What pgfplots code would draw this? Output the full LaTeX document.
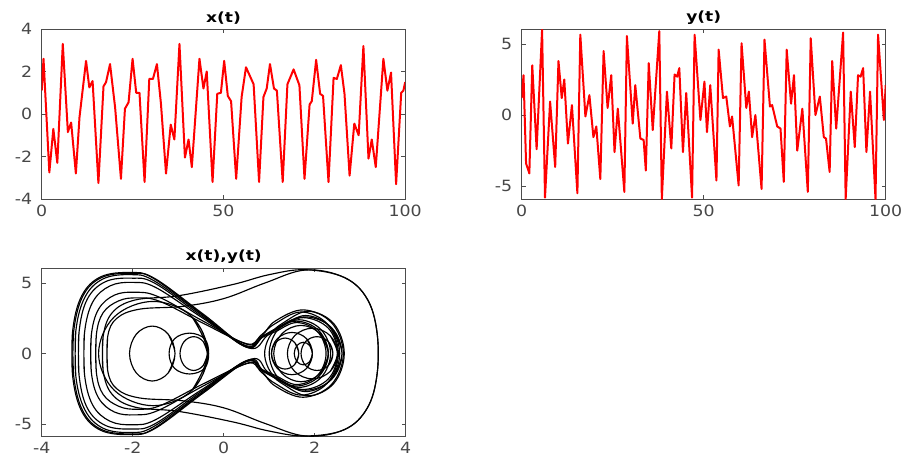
\documentclass[border=0pt]{standalone}
\usepackage{fontspec}
\setmainfont{DejaVu Sans}
\newfontfamily\tickfont{DejaVu Sans}[FakeStretch=1.12]
\newfontfamily\titlefont{DejaVu Sans}[FakeStretch=1.22]
\usepackage{pgfplots}
\pgfplotsset{compat=1.18}
\begin{document}
\begin{tikzpicture}
\useasboundingbox (0pt,0pt) rectangle (903pt,459pt);
\pgfplotsset{
  myax/.style={
    scale only axis,
    anchor=south west,
    axis line style={line width=1pt, black!70},
    every tick/.style={black!70, line width=0.7pt},
    major tick length=4pt,
    tick label style={font=\tickfont\fontsize{15.5}{17}\selectfont, text=black!72},
    /pgf/number format/assume math mode=true,
    title style={font=\titlefont\bfseries\fontsize{14}{16}\selectfont, at={(0.5,1)}, anchor=south, yshift=-4pt, inner sep=2.5pt},
    xticklabel style={yshift=-2pt},
    yticklabel style={xshift=-6pt},
  },
  rl/.style={red, line width=2pt, line join=round, sharp plot, no markers},
  ph/.style={black, line width=1.15pt, smooth, tension=0.62, no markers},
}
% ---------------- x(t) ----------------
\begin{axis}[myax, at={(41.7pt,260pt)}, width=363.5pt, height=170pt,
  xmin=0, xmax=100, ymin=-4, ymax=4,
  xtick={0,50,100}, ytick={-4,-2,0,2,4}, title={x(t)}]
\addplot[rl] coordinates {
(0,1.1)(0.5,2.6)(2.1,-2.75)(3.2,-0.7)(4.3,-2.3)(5.8,3.3)(7.2,-0.85)(8.1,-0.4)(9.4,-2.8)(10.4,-0.15)
(12.2,2.5)(13.1,1.25)(14.0,1.55)(15.6,-3.25)(17.0,1.3)(17.7,1.5)(18.8,2.35)(20.2,0.3)(21.8,-3.05)(22.9,0.25)
(23.9,0.55)(25.0,2.6)(26.0,1.0)(26.9,1.0)(28.3,-3.2)(29.6,1.65)(30.6,1.65)(31.7,2.35)(32.8,0.5)(34.2,-2.8)
(35.5,-0.5)(36.5,-1.2)(37.9,3.3)(39.4,-2.05)(40.4,-1.2)(41.3,-2.5)(43.4,2.6)(44.5,1.2)(45.4,2.0)(47.0,-3.2)
(48.3,0.95)(49.3,1.0)(50.2,2.5)(51.2,0.85)(52.1,0.6)(53.5,-3.05)(55.0,0.8)(56.2,2.2)(58.3,1.4)(59.8,-3.2)
(61.0,0.8)(61.9,1.2)(62.8,2.35)(63.9,1.2)(64.7,1.1)(66.3,-3.2)(67.6,1.4)(69.3,2.1)(70.9,1.35)(72.3,-3.05)
(73.7,0.45)(74.3,0.6)(75.5,2.55)(76.6,0.95)(77.4,0.85)(78.9,-3.2)(80.3,1.7)(81.2,1.65)(82.3,2.3)(83.3,0.95)
(84.7,-2.9)(86.0,-0.45)(87.2,-1.0)(88.5,3.2)(89.9,-2.1)(90.8,-1.2)(91.9,-2.5)(94.0,2.6)(95.1,1.1)(96.1,1.95)
(97.5,-3.3)(98.9,1.0)(99.5,1.1)(100,1.5)};
\end{axis}
% ---------------- y(t) ----------------
\begin{axis}[myax, at={(521.7pt,260pt)}, width=364pt, height=170pt,
  xmin=0, xmax=100, ymin=-5.9, ymax=6.05,
  xtick={0,50,100}, ytick={-5,0,5}, title={y(t)}]
\addplot[rl] coordinates {
(0,1.2)(0.5,2.8)(1.2,-3.4)(2.1,-4.1)(2.9,3.5)(4.1,-2.4)(5.6,6.0)(6.4,-5.8)(7.8,0.95)(9.2,-3.65)
(10.1,3.8)(11.0,1.2)(11.7,2.5)(12.7,-2.0)(13.8,0.7)(15.3,-5.5)(16.1,5.65)(17.5,-0.1)(18.6,1.4)(19.7,-1.55)
(20.5,-0.8)(21.6,-4.5)(22.5,4.5)(23.6,0.5)(24.6,2.8)(25.5,-2.6)(26.4,0.45)(28.2,-5.4)(28.9,5.55)(30.5,-0.6)
(31.2,2.1)(32.6,-1.65)(33.5,-1.75)(34.1,-3.9)(34.9,3.65)(36.0,-1.05)(37.8,5.9)(38.5,-5.9)(39.9,1.65)(41.1,-2.35)
(42.0,2.85)(42.7,2.7)(43.3,3.3)(44.3,-2.6)(45.2,1.55)(46.8,-5.8)(47.5,5.65)(49.1,-0.35)(50.2,2.35)(50.9,-1.2)
(51.8,2.1)(53.5,-4.6)(54.1,4.6)(55.3,1.2)(56.2,1.3)(57.2,-0.8)(57.8,-0.1)(59.6,-4.95)(60.4,5.05)(61.7,0.5)
(62.4,1.65)(63.3,-1.55)(64.2,0.0)(65.9,-5.2)(66.7,5.3)(68.2,0.6)(68.8,0.7)(70.2,-0.8)(71.1,-0.95)(72.0,-4.7)
(72.8,4.6)(74.0,0.8)(74.8,2.8)(75.7,-2.5)(77.1,0.45)(78.6,-5.4)(79.4,5.4)(80.7,0.0)(81.9,1.3)(83.0,-1.55)
(83.6,-1.65)(84.6,-4.0)(85.3,3.8)(86.4,-0.95)(88.3,5.8)(89.0,-5.9)(90.4,1.65)(91.5,-2.25)(92.4,2.8)(93.1,2.7)
(93.8,3.3)(94.7,-2.6)(95.7,1.65)(97.2,-5.9)(97.9,5.65)(99.5,-0.35)(100,2.1)};
\end{axis}
% ---------------- phase portrait ----------------
\begin{axis}[myax, at={(41.7pt,22.3pt)}, width=364pt, height=168.4pt,
  xmin=-4, xmax=4, ymin=-5.9, ymax=6.05,
  xtick={-4,-2,0,2,4}, ytick={-5,0,5}, title={x(t),y(t)}]
% figure-eight passes
\addplot[ph] coordinates {(-3.32,-1.6)(-3.32,1.6)(-3.12,4.1)(-2.7,5.45)(-2.05,5.75)(-1.55,5.35)(-0.5,2.85)(0.5,0.45)(0.85,1.3)(1.13,2.3)(1.75,3.1)(2.37,2.19)(2.63,0)(2.37,-2.19)(1.75,-3.1)(1.13,-2.3)(0.85,-1.3)(0.55,-0.45)(-0.5,-2.85)(-1.55,-5.35)(-2.05,-5.75)(-2.7,-5.45)(-3.12,-4.1)(-3.32,-1.6)(-3.32,1.6)};
\addplot[ph] coordinates {(-3.25,-1.6)(-3.25,1.6)(-3.05,4.0)(-2.65,5.3)(-2.05,5.6)(-1.55,5.2)(-0.5,2.8)(0.47,0.5)(0.82,1.3)(1.12,2.1)(1.7,2.95)(2.28,2.09)(2.52,0)(2.28,-2.09)(1.7,-2.95)(1.12,-2.1)(0.82,-1.3)(0.5,-0.5)(-0.5,-2.8)(-1.55,-5.2)(-2.05,-5.6)(-2.65,-5.3)(-3.05,-4.0)(-3.25,-1.6)(-3.25,1.6)};
\addplot[ph] coordinates {(-3.06,-1.45)(-3.06,1.45)(-2.88,3.65)(-2.5,4.8)(-2.0,5.05)(-1.5,4.7)(-0.5,2.6)(0.5,0.55)(0.9,1.3)(1.27,1.95)(1.8,2.7)(2.33,1.91)(2.55,0)(2.33,-1.91)(1.8,-2.7)(1.27,-1.95)(0.9,-1.3)(0.52,-0.55)(-0.5,-2.6)(-1.5,-4.7)(-2.0,-5.05)(-2.5,-4.8)(-2.88,-3.65)(-3.06,-1.45)(-3.06,1.45)};
\addplot[ph] coordinates {(-2.91,-1.3)(-2.91,1.3)(-2.75,3.15)(-2.4,4.15)(-1.95,4.35)(-1.45,4.05)(-0.45,2.3)(0.52,0.65)(0.85,1.2)(1.16,1.7)(1.65,2.4)(2.14,1.7)(2.35,0)(2.14,-1.7)(1.65,-2.4)(1.16,-1.7)(0.85,-1.2)(0.55,-0.65)(-0.45,-2.3)(-1.45,-4.05)(-1.95,-4.35)(-2.4,-4.15)(-2.75,-3.15)(-2.91,-1.3)(-2.91,1.3)};
\addplot[ph] coordinates {(-3.3,-1.5)(-3.3,1.5)(-3.1,4.05)(-2.68,5.4)(-2.0,5.7)(-1.5,5.3)(-0.45,2.8)(0.55,0.4)(0.95,1.25)(1.28,2.12)(1.85,3.0)(2.42,2.12)(2.65,0)(2.42,-2.12)(1.85,-3.0)(1.28,-2.12)(0.95,-1.25)(0.6,-0.4)(-0.45,-2.8)(-1.5,-5.3)(-2.0,-5.7)(-2.68,-5.4)(-3.1,-4.05)(-3.3,-1.5)(-3.3,1.5)};
\addplot[ph] coordinates {(-3.18,-1.5)(-3.18,1.5)(-3.0,3.85)(-2.6,5.1)(-2.02,5.35)(-1.52,5.0)(-0.5,2.7)(0.5,0.5)(0.82,1.1)(1.14,1.56)(1.6,2.2)(2.06,1.56)(2.25,0)(2.06,-1.56)(1.6,-2.2)(1.14,-1.56)(0.82,-1.1)(0.52,-0.5)(-0.5,-2.7)(-1.52,-5.0)(-2.02,-5.35)(-2.6,-5.1)(-3.0,-3.85)(-3.18,-1.5)(-3.18,1.5)};
\addplot[ph] coordinates {(-2.8,-1.3)(-2.8,1.3)(-2.65,2.9)(-2.3,3.75)(-1.9,3.95)(-1.4,3.7)(-0.45,2.15)(0.5,0.7)(0.8,1.15)(1.2,1.85)(1.75,2.55)(2.3,1.8)(2.5,0)(2.3,-1.8)(1.75,-2.55)(1.2,-1.85)(0.8,-1.15)(0.52,-0.7)(-0.45,-2.15)(-1.4,-3.7)(-1.9,-3.95)(-2.3,-3.75)(-2.65,-2.9)(-2.8,-1.3)(-2.8,1.3)};
% big excursions round the right
\addplot[ph] coordinates {(-2.65,-1.2)(-2.65,1.2)(-2.45,2.9)(-1.95,3.8)(-1.0,4.1)(0.2,4.9)(1.0,5.6)(1.8,5.95)(2.65,5.4)(3.15,3.9)(3.37,1.5)(3.37,-1.5)(3.15,-3.9)(2.65,-5.4)(1.8,-5.85)(1.0,-5.5)(0.2,-4.85)(-1.0,-4.1)(-1.95,-3.8)(-2.45,-2.9)(-2.65,-1.2)(-2.65,1.2)};
\addplot[ph] coordinates {(-2.55,-1.2)(-2.55,1.2)(-2.35,2.5)(-1.85,3.15)(-0.9,3.35)(0.0,3.9)(0.9,5.0)(1.8,5.93)(2.65,5.4)(3.15,3.9)(3.37,1.5)(3.37,-1.5)(3.15,-3.9)(2.65,-5.4)(1.8,-5.85)(0.9,-4.95)(0.0,-3.85)(-0.9,-3.35)(-1.85,-3.15)(-2.35,-2.5)(-2.55,-1.2)(-2.55,1.2)};
% closed rings, left lobe
\addplot[ph] coordinates {(-0.70,-2.62)(-0.35,0)(-0.70,2.62)(-1.55,3.7)(-2.4,2.62)(-2.75,0)(-2.4,-2.62)(-1.55,-3.7)(-0.70,-2.62)(-0.35,0)(-0.70,2.62)};
\addplot[ph] coordinates {(-1.22,-1.38)(-1.07,0)(-1.22,1.38)(-1.57,1.95)(-1.92,1.38)(-2.07,0)(-1.92,-1.38)(-1.57,-1.95)(-1.22,-1.38)(-1.07,0)(-1.22,1.38)};
\addplot[ph] coordinates {(-0.42,-1.05)(-0.33,0)(-0.42,1.05)(-0.75,1.45)(-1.08,1.05)(-1.2,0)(-1.08,-1.05)(-0.75,-1.45)(-0.42,-1.05)(-0.33,0)(-0.42,1.05)};
\addplot[ph] coordinates {(-0.45,-0.85)(-0.36,0)(-0.45,0.85)(-0.66,1.2)(-0.87,0.85)(-0.96,0)(-0.87,-0.85)(-0.66,-1.2)(-0.45,-0.85)(-0.36,0)(-0.45,0.85)};
% closed rings, right lobe
\addplot[ph] coordinates {(2.12,-1.41)(2.3,0)(2.12,1.41)(1.7,2.0)(1.28,1.41)(1.1,0)(1.28,-1.41)(1.7,-2.0)(2.12,-1.41)(2.3,0)(2.12,1.41)};
\addplot[ph] coordinates {(2.34,-1.27)(2.5,0)(2.34,1.27)(1.95,1.8)(1.56,1.27)(1.4,0)(1.56,-1.27)(1.95,-1.8)(2.34,-1.27)(2.5,0)(2.34,1.27)};
\addplot[ph] coordinates {(1.82,-1.06)(1.95,0)(1.82,1.06)(1.5,1.5)(1.18,1.06)(1.05,0)(1.18,-1.06)(1.5,-1.5)(1.82,-1.06)(1.95,0)(1.82,1.06)};
\addplot[ph] coordinates {(1.89,-0.57)(1.95,0)(1.89,0.57)(1.75,0.8)(1.61,0.57)(1.55,0)(1.61,-0.57)(1.75,-0.8)(1.89,-0.57)(1.95,0)(1.89,0.57)};
\addplot[ph] coordinates {(2.30,-0.85)(2.4,0)(2.30,0.85)(2.05,1.2)(1.80,0.85)(1.7,0)(1.80,-0.85)(2.05,-1.2)(2.30,-0.85)(2.4,0)(2.30,0.85)};
\addplot[ph] coordinates {(1.56,-0.78)(1.65,0)(1.56,0.78)(1.35,1.1)(1.14,0.78)(1.05,0)(1.14,-0.78)(1.35,-1.1)(1.56,-0.78)(1.65,0)(1.56,0.78)};
\addplot[ph] coordinates {(2.37,-1.84)(2.6,0)(2.37,1.84)(1.8,2.6)(1.23,1.84)(1.0,0)(1.23,-1.84)(1.8,-2.6)(2.37,-1.84)(2.6,0)(2.37,1.84)};
\addplot[ph] coordinates {(2.09,-1.63)(2.3,0)(2.09,1.63)(1.6,2.3)(1.11,1.63)(0.9,0)(1.11,-1.63)(1.6,-2.3)(2.09,-1.63)(2.3,0)(2.09,1.63)};
\end{axis}
\end{tikzpicture}
\end{document}
